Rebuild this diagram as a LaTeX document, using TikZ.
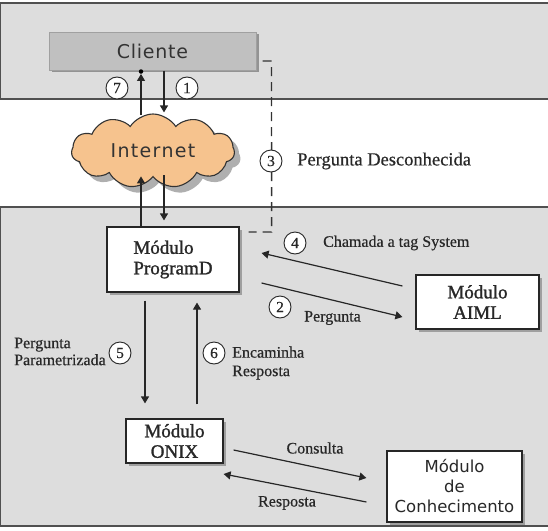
\documentclass[tikz,border=0pt]{standalone}
\usepackage{fontspec}
\setmainfont{Liberation Serif}
\newfontfamily\semib[FakeBold=1.3]{Liberation Serif}
\newfontfamily\lblf[FakeBold=0.5]{Liberation Serif}
\newfontfamily\sansf{DejaVu Sans}
\newfontfamily\sanscli[LetterSpace=4]{DejaVu Sans}
\newfontfamily\sansnet[LetterSpace=7]{DejaVu Sans}
\usetikzlibrary{shapes.symbols,shadows,arrows.meta,calc}
\definecolor{bandgray}{RGB}{221,221,221}
\definecolor{bandline}{RGB}{80,80,80}
\definecolor{cligray}{RGB}{192,192,192}
\definecolor{cliedge}{RGB}{160,160,160}
\definecolor{cloudor}{RGB}{246,195,142}
\definecolor{txt}{RGB}{40,40,40}
\begin{document}
\begin{tikzpicture}[x=1pt,y=-1pt,
  band/.style={fill=bandgray,draw=bandline,line width=1.4pt},
  modbox/.style={draw=black!85,line width=1.2pt,fill=white,inner sep=0pt,
    drop shadow={shadow xshift=2.5pt,shadow yshift=-2.5pt,fill=gray!75,opacity=1},
    font=\semib\fontsize{19}{20.5}\selectfont,text=txt},
  sansbox/.style={modbox,font=\sansf\fontsize{16.5}{20}\selectfont},
  arr/.style={draw=black!85,line width=1.2pt,-{Triangle[length=7pt,width=8pt]}},
  dashline/.style={draw=black!80,line width=1.4pt,dash pattern=on 9pt off 6pt},
  num/.style={circle,draw=black!85,line width=0.9pt,fill=white,inner sep=0pt,
    minimum size=22pt,font=\lblf\fontsize{15.5}{15.5}\selectfont,text=txt},
  lbl/.style={inner sep=0pt,font=\lblf\fontsize{16}{17}\selectfont,text=txt,align=left}]
\useasboundingbox (0,0) rectangle (548,530);
\clip (0,0) rectangle (548,530);
% bands
\draw[band] (0.7,3) rectangle (600,99);
\draw[band] (0.7,207) rectangle (600,526);
% nodes
\node[draw=cliedge,line width=1pt,fill=cligray,minimum width=207pt,minimum height=38pt,
  inner sep=0pt,drop shadow={shadow xshift=3pt,shadow yshift=-2pt,fill=gray!85,opacity=1},
  font=\sanscli\fontsize{19}{20}\selectfont,text=black!80] (cli) at (152.5,51) {Cliente};
\node[cloud,cloud puffs=11,cloud puff arc=115,aspect=2.3,draw=black!80,line width=1.1pt,
  fill=cloudor,minimum width=163pt,minimum height=74pt,inner sep=0pt,
  drop shadow={shadow xshift=6pt,shadow yshift=-6pt,fill=gray!70,opacity=.9},
  font=\sansnet\fontsize{19}{20}\selectfont,text=black!80] (cloud) at (153,151) {Internet};
\node[modbox,minimum width=132pt,minimum height=65pt,align=left] (prog) at (173,259.5) {Módulo\\ProgramD};
\node[modbox,minimum width=123pt,minimum height=54pt,align=center] (aiml) at (477.5,302) {Módulo\\AIML};
\node[modbox,minimum width=97pt,minimum height=44pt,align=center] (onix) at (174.5,441) {Módulo\\ONIX};
\node[sansbox,minimum width=135pt,minimum height=71pt,align=center] (conh) at (454.5,486.5) {Módulo\\de\\Conhecimento};
\node[circle,fill=black,inner sep=0pt,minimum size=4.5pt] (dot) at (141,71.5) {};
\coordinate (xl) at (141,0);
\coordinate (xr) at (164,0);
% top arrows
\draw[arr] ($(cloud.north -| dot)+(0,2)$) -- (dot.south);
\draw[arr] (cli.south -| xr) -- ($(cloud.north -| xr)+(0,-1)$);
\draw[arr] (prog.north -| xl) -- ($(cloud.south -| xl)+(0,-1)$);
\draw[arr] ($(cloud.south -| xr)+(0,-2)$) -- ($(prog.north -| xr)+(0,-6)$);
% dashed
\draw[dashline] ($(cli.east)+(6,10)$) -- ++(9,0) -- ($(prog.east)+(32,-27.5)$) -- ($(prog.east)+(9,-27.5)$);
% AIML arrows
\draw[arr] ($(aiml.west)+(-13,-16)$) -- ($(prog.east)+(22,-6.5)$);
\draw[arr] ($(prog.east)+(22,23.5)$) -- ($(aiml.west)+(-13,15)$);
% vertical arrows
\draw[arr] ($(prog.south)+(-28,8)$) -- ($(onix.north)+(-29.5,-15)$);
\draw[arr] ($(onix.north)+(22.5,-14)$) -- ($(prog.south)+(24,10)$);
% ONIX arrows
\draw[arr] ($(onix.east)+(10,9)$) -- ($(conh.west)+(-20,-8.5)$);
\draw[arr] ($(conh.west)+(-20,15.5)$) -- ($(onix.east)+(0,33)$);
% numbers
\node[num] (n7) at (117,88) {7};
\node[num] (n1) at (187,88) {1};
\node[num] (n3) at (271,161) {3};
\node[num] (n4) at (295,243) {4};
\node[num] (n2) at (280,307) {2};
\node[num] (n5) at (120,353) {5};
\node[num] (n6) at (214,353) {6};
% labels
\node[lbl,anchor=west,font=\lblf\fontsize{18.5}{20}\selectfont] (l3) at (297,161) {Pergunta Desconhecida};
\node[lbl,anchor=west] (l4) at (323,243) {Chamada a tag System};
\node[lbl,anchor=west] (l2) at (304,318) {Pergunta};
\node[lbl,anchor=west] (l5) at (14,351.5) {Pergunta\\Parametrizada};
\node[lbl,anchor=west,font=\lblf\fontsize{16}{18.5}\selectfont] (l6) at (232,363) {Encaminha\\Resposta};
\node[lbl] (lc) at (315,448) {Consulta};
\node[lbl] (lr) at (287,503) {Resposta};
\end{tikzpicture}
\end{document}
